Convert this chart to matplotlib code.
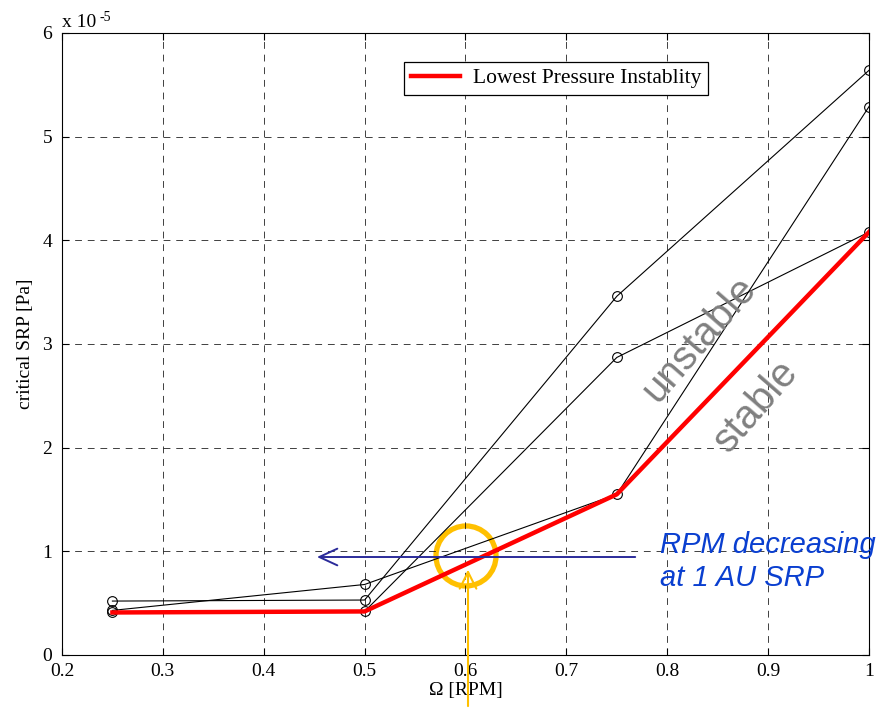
import matplotlib
matplotlib.use("Agg")
import matplotlib.pyplot as plt
from matplotlib.patches import Ellipse

# rotation speed [RPM]
omega = [0.25, 0.5, 0.75, 1.0]
# critical SRP, units of 1e-5 Pa
case_a = [0.43, 0.68, 1.55, 5.29]
case_b = [0.52, 0.53, 3.46, 5.64]
case_c = [0.41, 0.42, 2.87, 4.08]
lowest = [0.41, 0.42, 1.55, 4.08]

xticks = [0.2, 0.3, 0.4, 0.5, 0.6, 0.7, 0.8, 0.9, 1.0]
xticklabels = ["0.2", "0.3", "0.4", "0.5", "0.6", "0.7", "0.8", "0.9", "1"]
yticks = [0, 1, 2, 3, 4, 5, 6]

plt.rcParams['font.family'] = ['Liberation Serif', 'DejaVu Serif']

fig = plt.figure(figsize=(8.88, 7.08), dpi=100)
ax = fig.add_axes([0.0698, 0.0749, 0.9088, 0.8785])

for s in (case_a, case_b, case_c):
    ax.plot(omega, s, color='black', lw=0.8, marker='o', ms=7,
            mfc='none', mec='black', mew=0.8)
ax.plot(omega, lowest, color='red', lw=3.2, label='Lowest Pressure Instablity')

ax.set_xlim(0.2, 1.0)
ax.set_ylim(0, 6)
ax.set_xticks(xticks)
ax.set_xticklabels(xticklabels)
ax.set_yticks(yticks)
ax.tick_params(direction='in', top=True, right=True, labelsize=14, length=5)
ax.tick_params(axis='y', pad=7)
ax.tick_params(axis='x', pad=6)
ax.grid(True, linestyle=(0, (7, 6)), color='black', lw=0.7, alpha=0.75)
ax.set_xlabel('Ω [RPM]', fontsize=14, labelpad=1)
ax.set_ylabel('critical SRP [Pa]', fontsize=14, labelpad=6)
# MATLAB style exponent label
ax.text(0.0, 1.004, 'x 10', transform=ax.transAxes, fontsize=14,
        ha='left', va='bottom')
ax.text(0.047, 1.014, '-5', transform=ax.transAxes, fontsize=10,
        ha='left', va='bottom')

leg = ax.legend(loc='upper left', bbox_to_anchor=(0.411, 0.971), fontsize=15.5,
                fancybox=False, framealpha=1, edgecolor='black',
                handlelength=2.3, borderpad=0.3, handletextpad=0.6)
leg.get_frame().set_linewidth(0.9)

# annotations
ax.text(0.832, 3.05, 'unstable', rotation=49, color='#808080', fontsize=29,
        family='Liberation Sans', ha='center', va='center')
ax.text(0.888, 2.4, 'stable', rotation=49, color='#808080', fontsize=29,
        family='Liberation Sans', ha='center', va='center')
ax.text(0.793, 0.90, 'RPM decreasing\nat 1 AU SRP', color='#0a3fd0', fontsize=21,
        family='Liberation Sans', style='italic', ha='left', va='center',
        linespacing=1.2, clip_on=False)

ax.annotate('', xy=(0.45, 0.945), xytext=(0.771, 0.945),
            arrowprops=dict(arrowstyle='->,head_length=1.3,head_width=0.6',
                            color='#2b2b9a', lw=1.4))
ax.add_patch(Ellipse((0.6005, 0.955), 0.0595, 0.579, fill=False,
                     edgecolor='#ffc000', lw=3.8))
ax.annotate('', xy=(0.6025, 0.85), xytext=(0.6025, -0.52),
            arrowprops=dict(arrowstyle='->,head_length=1.2,head_width=0.6',
                            color='#ffc000', lw=1.5),
            annotation_clip=False)

fig.savefig('out.png', dpi=100)
